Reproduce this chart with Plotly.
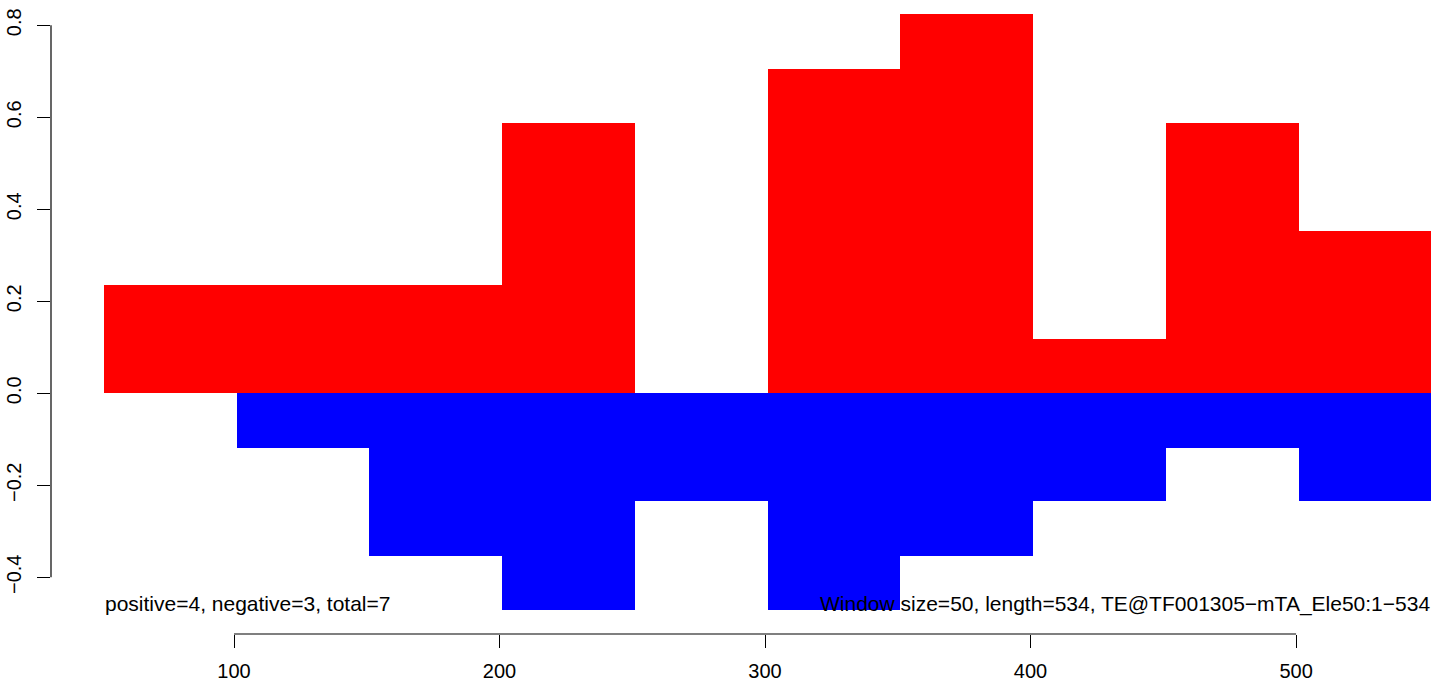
import plotly.graph_objects as go

# Window start positions (bp) and window size
window_starts = [51, 101, 151, 201, 251, 301, 351, 401, 451, 501]
window_size = 50
positive_vals = [0.235, 0.235, 0.235, 0.588, 0.0, 0.706, 0.824, 0.118, 0.588, 0.353]
negative_vals = [0.0, -0.118, -0.353, -0.471, -0.235, -0.471, -0.353, -0.235, -0.118, -0.235]
x_ticks = [100, 200, 300, 400, 500]
y_ticks = [-0.4, -0.2, 0.0, 0.2, 0.4, 0.6, 0.8]
left_label = "positive=4, negative=3, total=7"
right_label = "Window size=50, length=534, TE@TF001305\u2212mTA_Ele50:1\u2212534"

FONT = "Liberation Sans, Arial, Helvetica, sans-serif"
centers = [s + window_size / 2 for s in window_starts]

fig = go.Figure()
fig.add_trace(go.Bar(x=centers, y=positive_vals, width=window_size,
                     marker=dict(color="#FF0000", line=dict(width=0)), showlegend=False))
fig.add_trace(go.Bar(x=centers, y=negative_vals, width=window_size,
                     marker=dict(color="#0000FF", line=dict(width=0)), showlegend=False))

fig.update_layout(
    width=1436, height=682,
    margin=dict(l=51, r=0, t=0, b=48),
    paper_bgcolor="white", plot_bgcolor="white",
    barmode="overlay", bargap=0,
    font=dict(family=FONT, size=20, color="black"),
    xaxis=dict(range=[31.07, 552.7], tickvals=x_ticks, ticks="outside", ticklen=13,
               tickwidth=1.2, tickcolor="black", showgrid=False, zeroline=False,
               showline=False, tickfont=dict(size=20), ticklabelstandoff=6),
    yaxis=dict(range=[-0.5233, 0.855], tickvals=y_ticks, tickformat=".1f",
               ticks="outside", ticklen=13, tickwidth=1.2, tickcolor="black",
               showgrid=False, zeroline=False, showline=False, tickangle=-90,
               tickfont=dict(size=20), ticklabelstandoff=8),
)

# R-style axis lines spanning only first to last tick
fig.add_shape(type="line", xref="x", yref="paper", x0=x_ticks[0], x1=x_ticks[-1], y0=0, y1=0,
              line=dict(color="black", width=1.2))
fig.add_shape(type="line", xref="paper", yref="y", x0=0, x1=0, y0=y_ticks[0], y1=y_ticks[-1],
              line=dict(color="black", width=1.2))

fig.add_annotation(x=window_starts[0], y=-0.458, xref="x", yref="y", text=left_label,
                   showarrow=False, xanchor="left", yanchor="middle",
                   font=dict(size=21, family=FONT, color="black"), borderpad=0)
fig.add_annotation(x=window_starts[-1] + window_size, y=-0.458, xref="x", yref="y", text=right_label,
                   showarrow=False, xanchor="right", yanchor="middle",
                   font=dict(size=21, family=FONT, color="black"), borderpad=0)

fig.write_html("out.html", config={"displayModeBar": False},
               post_script="document.body.style.margin='0';document.body.style.overflow='hidden';")
